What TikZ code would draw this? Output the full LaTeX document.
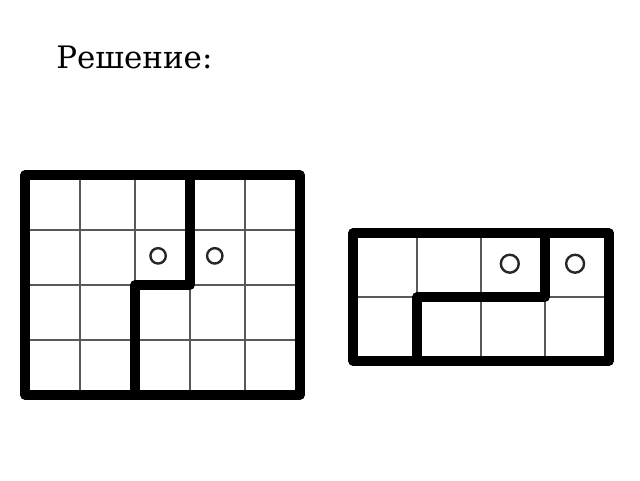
\documentclass[tikz,border=0pt]{standalone}
\usepackage{fontspec}
\setmainfont{DejaVu Serif}
\begin{document}
\begin{tikzpicture}[
  thin grid/.style={gray!70!black, line width=0.9pt},
  thick border/.style={line width=6.5pt, line join=round},
  mark circle/.style={line width=1.7pt, black!85}
]
  \useasboundingbox (0,0) rectangle (16,12);
  % Heading
  \node[anchor=base west, inner sep=0pt, font=\fontsize{22}{26}\selectfont] (title) at (1.4,10.275) {Решение:};

  % Left board, 5 x 4 cells
  \begin{scope}[shift={(0.625,2.125)}, scale=1.375]
    \draw[thin grid] (0,0) grid (5,4);
    \draw[thick border] (0,0) rectangle (5,4);
    % Cut line
    \draw[thick border] (3,4) -- (3,2) -- (2,2) -- (2,0);
    \foreach \x in {2.42,3.45} {
      \draw[mark circle] (\x,2.53) circle (0.14);
    }
  \end{scope}

  % Right board, 4 x 2 cells
  \begin{scope}[shift={(8.825,2.975)}, scale=1.6]
    \draw[thin grid] (0,0) grid (4,2);
    \draw[thick border] (0,0) rectangle (4,2);
    % Cut line
    \draw[thick border] (3,2) -- (3,1) -- (1,1) -- (1,0);
    \foreach \x in {2.45,3.47} {
      \draw[mark circle] (\x,1.52) circle (0.14);
    }
  \end{scope}
\end{tikzpicture}
\end{document}
